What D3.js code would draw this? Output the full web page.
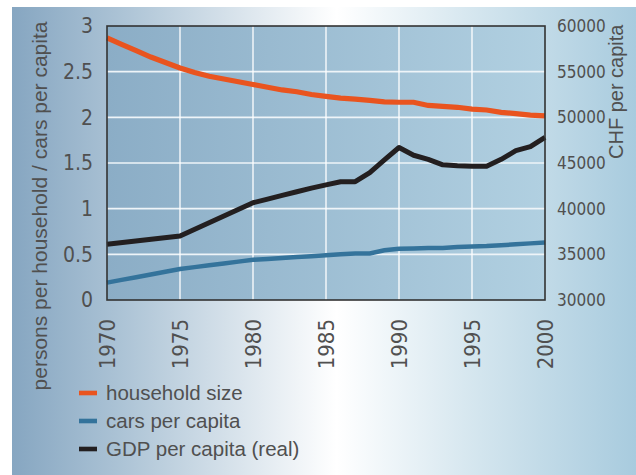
<!DOCTYPE html>
<html>
<head>
<meta charset="utf-8">
<script src="https://cdn.jsdelivr.net/npm/d3@7"></script>
<style>
  html, body { margin: 0; padding: 0; background: #ffffff; }
  svg { display: block; }
</style>
</head>
<body>
<svg id="chart" width="636" height="475"></svg>
<script>
// Annual series 1970–2000
const years = d3.range(1970, 2001);
const householdSize = [2.87, 2.80, 2.73, 2.66, 2.60, 2.54, 2.49, 2.45, 2.42, 2.39,
                       2.36, 2.33, 2.30, 2.28, 2.25, 2.23, 2.21, 2.20, 2.185, 2.17,
                       2.165, 2.165, 2.13, 2.12, 2.11, 2.09, 2.08, 2.055, 2.04, 2.025, 2.015];
const carsPerCapita = [0.19, 0.22, 0.25, 0.28, 0.31, 0.34, 0.36, 0.38, 0.40, 0.42,
                       0.44, 0.45, 0.46, 0.47, 0.48, 0.49, 0.50, 0.51, 0.51, 0.545,
                       0.56, 0.565, 0.57, 0.57, 0.58, 0.585, 0.59, 0.60, 0.61, 0.62, 0.63];
// Real GDP per capita (CHF): five-yearly until 1980, annual afterwards
const gdpYears = [1970, 1975, 1980, 1981, 1982, 1983, 1984, 1985, 1986, 1987, 1988, 1989,
                  1990, 1991, 1992, 1993, 1994, 1995, 1996, 1997, 1998, 1999, 2000];
const gdpPerCapita = [36100, 37000, 40650, 41050, 41450, 41850, 42250, 42600, 42950, 42950, 43950, 45350,
                      46700, 45850, 45400, 44800, 44700, 44650, 44650, 45400, 46350, 46800, 47800];

const leftTicks = [0, 0.5, 1, 1.5, 2, 2.5, 3];
const rightTicks = [30000, 35000, 40000, 45000, 50000, 55000, 60000];
const yearTicks = [1970, 1975, 1980, 1985, 1990, 1995, 2000];
const leftTitle = "persons per household / cars per capita";
const rightTitle = "CHF per capita";
const legendLabels = ["household size", "cars per capita", "GDP per capita (real)"];
const colors = ["#e9541f", "#34739b", "#231f20"];

const svg = d3.select("#chart");
const W = 636, H = 475;
const plot = {left: 107, right: 545, top: 26, bottom: 300};
const textColor = "#505050";
const narrowFont = "'Liberation Sans Narrow', 'DejaVu Sans Condensed', sans-serif";
const titleFont = "'Liberation Sans', Arial, sans-serif";

const defs = svg.append("defs");
const bgGrad = defs.append("linearGradient").attr("id", "bgGrad")
  .attr("x1", "0%").attr("x2", "100%").attr("y1", "0%").attr("y2", "0%");
bgGrad.append("stop").attr("offset", "0%").attr("stop-color", "#86a6c1");
bgGrad.append("stop").attr("offset", "18%").attr("stop-color", "#adc4d6");
bgGrad.append("stop").attr("offset", "52%").attr("stop-color", "#ffffff");
bgGrad.append("stop").attr("offset", "75%").attr("stop-color", "#d3e5ee");
bgGrad.append("stop").attr("offset", "100%").attr("stop-color", "#a8cbde");

const plotGrad = defs.append("linearGradient").attr("id", "plotGrad")
  .attr("x1", "0%").attr("x2", "100%").attr("y1", "0%").attr("y2", "0%");
plotGrad.append("stop").attr("offset", "0%").attr("stop-color", "#8badc6");
plotGrad.append("stop").attr("offset", "100%").attr("stop-color", "#b1d0e1");

// Panel background
svg.append("rect").attr("x", 12).attr("y", 7).attr("width", W - 12).attr("height", H - 7)
  .attr("fill", "url(#bgGrad)");

const x = d3.scaleLinear().domain([1970, 2000]).range([plot.left, plot.right]);
const yL = d3.scaleLinear().domain([0, 3]).range([plot.bottom, plot.top]);
const yR = d3.scaleLinear().domain([30000, 60000]).range([plot.bottom, plot.top]);

// Plot area
svg.append("rect").attr("x", plot.left).attr("y", plot.top)
  .attr("width", plot.right - plot.left).attr("height", plot.bottom - plot.top)
  .attr("fill", "url(#plotGrad)");

// Grid
const grid = svg.append("g");
grid.selectAll("line.h").data(leftTicks.slice(1, -1)).join("line").attr("class", "h")
  .attr("x1", plot.left).attr("x2", plot.right)
  .attr("y1", d => yL(d)).attr("y2", d => yL(d))
  .attr("stroke", "#eef4f8").attr("stroke-width", 1.6);
grid.selectAll("line.v").data(yearTicks.slice(1, -1)).join("line").attr("class", "v")
  .attr("y1", plot.top).attr("y2", plot.bottom)
  .attr("x1", d => x(d)).attr("x2", d => x(d))
  .attr("stroke", "#ffffff").attr("stroke-width", 1.3);

// Series
const lineL = d3.line().x((d, i) => x(years[i])).y(d => yL(d));
const lineGdp = d3.line().x((d, i) => x(gdpYears[i])).y(d => yR(d));

svg.append("path").datum(carsPerCapita).attr("d", lineL)
  .attr("fill", "none").attr("stroke", colors[1]).attr("stroke-width", 4.5);
svg.append("path").datum(householdSize).attr("d", lineL)
  .attr("fill", "none").attr("stroke", colors[0]).attr("stroke-width", 5.2);
svg.append("path").datum(gdpPerCapita).attr("d", lineGdp)
  .attr("fill", "none").attr("stroke", colors[2]).attr("stroke-width", 5)
  .attr("stroke-linejoin", "round");

// Frame
svg.append("rect").attr("x", plot.left).attr("y", plot.top)
  .attr("width", plot.right - plot.left).attr("height", plot.bottom - plot.top)
  .attr("fill", "none").attr("stroke", "#333333").attr("stroke-width", 1.6);

// Left axis labels
const axisL = d3.axisLeft(yL).tickValues(leftTicks).tickSize(0).tickPadding(14)
  .tickFormat(d => String(d));
const gL = svg.append("g").attr("transform", `translate(${plot.left},0)`).call(axisL);
gL.select(".domain").remove();
gL.selectAll("text").attr("font-family", narrowFont)
  .attr("font-size", 21).attr("fill", textColor);

// Right axis labels
const axisR = d3.axisRight(yR).tickValues(rightTicks).tickSize(0).tickPadding(12)
  .tickFormat(d => String(d));
const gR = svg.append("g").attr("transform", `translate(${plot.right},0)`).call(axisR);
gR.select(".domain").remove();
gR.selectAll("text").attr("font-family", narrowFont)
  .attr("font-size", 17).attr("fill", textColor);

// Year labels (rotated)
const axisB = d3.axisBottom(x).tickValues(yearTicks).tickSize(0).tickFormat(d3.format("d"));
const gB = svg.append("g").attr("transform", `translate(0,${plot.bottom})`).call(axisB);
gB.select(".domain").remove();
gB.selectAll("text")
  .attr("font-family", narrowFont)
  .attr("font-size", 22).attr("fill", textColor)
  .attr("text-anchor", "end")
  .attr("transform", "translate(0,19) rotate(-90)")
  .attr("x", 0).attr("y", 0).attr("dy", "0.36em");

// Axis titles
svg.append("text").attr("transform", "translate(47,206) rotate(-90)")
  .attr("text-anchor", "middle").attr("font-family", titleFont).attr("font-size", 21)
  .attr("fill", textColor).text(leftTitle);
svg.append("text").attr("transform", "translate(623,159) rotate(-90)")
  .attr("text-anchor", "start").attr("font-family", titleFont).attr("font-size", 20)
  .attr("fill", textColor).text(rightTitle);

// Legend
const legend = svg.append("g").attr("transform", "translate(79,393)");
const rows = legend.selectAll("g").data(legendLabels).join("g")
  .attr("transform", (d, i) => `translate(0,${i * 28})`);
rows.append("rect").attr("x", 0).attr("y", -2.3).attr("width", 18).attr("height", 4.6)
  .attr("fill", (d, i) => colors[i]);
rows.append("text").attr("x", 27).attr("y", 0).attr("dy", "0.35em")
  .attr("font-family", titleFont).attr("font-size", 20.5).attr("fill", textColor)
  .text(d => d);
</script>
</body>
</html>
